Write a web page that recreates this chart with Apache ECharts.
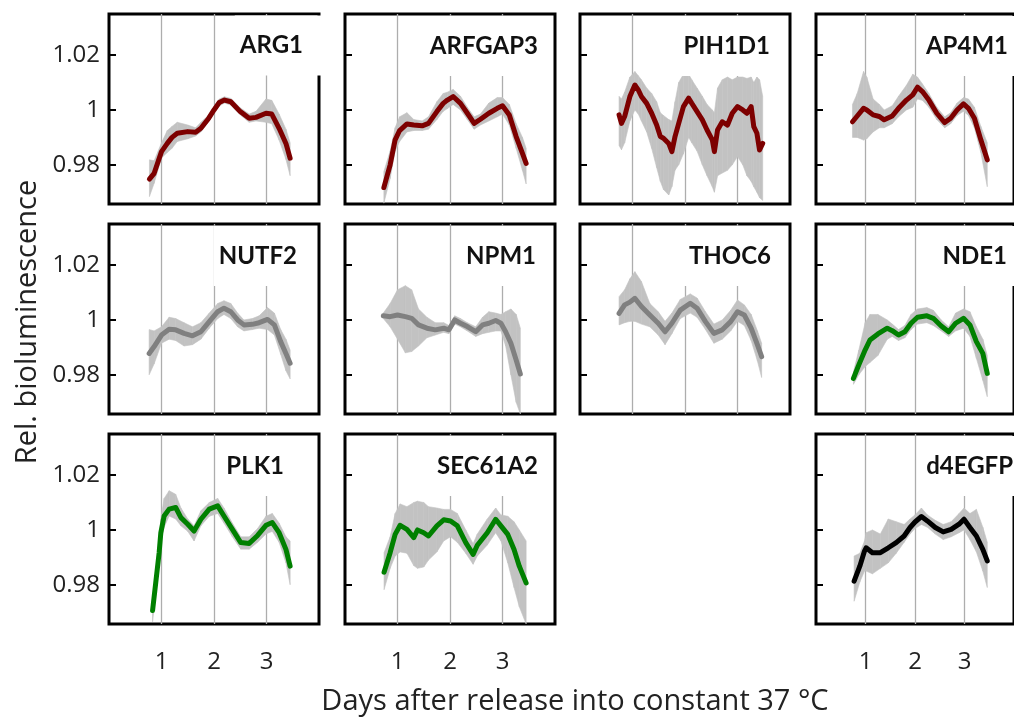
<!DOCTYPE html>
<html>
<head>
<meta charset="utf-8">
<script src="https://cdn.jsdelivr.net/npm/echarts@6/dist/echarts.min.js"></script>
<style>
  html, body { margin: 0; padding: 0; background: #fff; }
  #chart { width: 1014px; height: 720px; }
</style>
</head>
<body>
<div id="chart"></div>
<script>
// Each row: [days, mean, lower bound, upper bound]
const ARG1 = [
  [0.77, 0.9748, 0.9684, 0.9818], [0.86, 0.9769, 0.9733, 0.9815], [1.0, 0.9848, 0.9825, 0.9880],
  [1.11, 0.9878, 0.9845, 0.9925], [1.2, 0.9900, 0.9860, 0.9940], [1.3, 0.9915, 0.9885, 0.9955],
  [1.5, 0.9921, 0.9895, 0.9945], [1.65, 0.9919, 0.9905, 0.9935], [1.75, 0.9933, 0.9920, 0.9955],
  [1.9, 0.9970, 0.9958, 0.9982], [2.0, 1.0000, 0.9990, 1.0012], [2.1, 1.0027, 1.0015, 1.0040],
  [2.2, 1.0036, 1.0025, 1.0048], [2.32, 1.0030, 1.0018, 1.0042], [2.5, 0.9994, 0.9982, 1.0008],
  [2.67, 0.9970, 0.9955, 0.9985], [2.8, 0.9973, 0.9960, 0.9995], [2.99, 0.9988, 0.9955, 1.0040],
  [3.1, 0.9985, 0.9950, 1.0035], [3.24, 0.9933, 0.9890, 0.9985], [3.37, 0.9878, 0.9820, 0.9930],
  [3.45, 0.9824, 0.9760, 0.9880]
];
const ARFGAP3 = [
  [0.74, 0.9717, 0.9660, 0.9775], [0.86, 0.9800, 0.9750, 0.9850], [0.955, 0.9891, 0.9850, 0.9935],
  [1.04, 0.9925, 0.9885, 0.9975], [1.18, 0.9949, 0.9920, 0.9990], [1.31, 0.9945, 0.9925, 0.9965],
  [1.47, 0.9942, 0.9925, 0.9960], [1.59, 0.9951, 0.9930, 0.9975], [1.75, 0.9994, 0.9965, 1.0030],
  [1.87, 1.0024, 0.9995, 1.0060], [1.95, 1.0036, 1.0005, 1.0065], [2.06, 1.0049, 1.0020, 1.0075],
  [2.2, 1.0024, 1.0000, 1.0050], [2.33, 0.9988, 0.9965, 1.0010], [2.46, 0.9951, 0.9930, 0.9975],
  [2.58, 0.9966, 0.9945, 0.9985], [2.74, 0.9988, 0.9960, 1.0025], [2.9, 1.0006, 0.9975, 1.0045],
  [3.0, 1.0015, 0.9985, 1.0045], [3.13, 0.9982, 0.9945, 1.0020], [3.26, 0.9903, 0.9860, 0.9950],
  [3.38, 0.9842, 0.9780, 0.9900], [3.45, 0.9805, 0.9730, 0.9860]
];
const PIH1D1 = [
  [0.744, 0.9982, 0.9870, 1.0050], [0.79, 0.9951, 0.9855, 1.0040], [0.85, 0.9976, 0.9880, 1.0065],
  [0.95, 1.0049, 0.9960, 1.0120], [1.045, 1.0091, 1.0000, 1.0140], [1.11, 1.0073, 0.9985, 1.0125],
  [1.17, 1.0049, 0.9960, 1.0110], [1.27, 1.0024, 0.9920, 1.0080], [1.365, 0.9988, 0.9860, 1.0060],
  [1.46, 0.9945, 0.9790, 1.0030], [1.53, 0.9903, 0.9740, 0.9990], [1.59, 0.9897, 0.9710, 0.9980],
  [1.69, 0.9878, 0.9690, 0.9965], [1.75, 0.9848, 0.9720, 0.9960], [1.81, 0.9903, 0.9780, 1.0030],
  [1.88, 0.9951, 0.9800, 1.0100], [1.97, 1.0012, 0.9840, 1.0130], [2.07, 1.0043, 0.9900, 1.0130],
  [2.13, 1.0024, 0.9880, 1.0110], [2.23, 0.9994, 0.9850, 1.0080], [2.33, 0.9964, 0.9800, 1.0050],
  [2.42, 0.9927, 0.9760, 1.0020], [2.52, 0.9891, 0.9720, 1.0000], [2.56, 0.9848, 0.9700, 0.9990],
  [2.62, 0.9927, 0.9760, 1.0080], [2.71, 0.9957, 0.9770, 1.0110], [2.81, 0.9945, 0.9780, 1.0120],
  [2.9, 0.9988, 0.9800, 1.0110], [3.0, 1.0012, 0.9830, 1.0120], [3.1, 1.0000, 0.9800, 1.0120],
  [3.18, 0.9988, 0.9760, 1.0115], [3.26, 1.0012, 0.9740, 1.0120], [3.31, 0.9939, 0.9720, 1.0100],
  [3.37, 0.9915, 0.9700, 1.0120], [3.42, 0.9854, 0.9680, 1.0110], [3.48, 0.9878, 0.9670, 1.0050]
];
const AP4M1 = [
  [0.737, 0.9957, 0.9900, 1.0020], [0.833, 0.9978, 0.9900, 1.0060], [0.96, 1.0006, 0.9890, 1.0140],
  [1.026, 1.0000, 0.9895, 1.0120], [1.154, 0.9982, 0.9920, 1.0040], [1.28, 0.9976, 0.9935, 1.0020],
  [1.378, 0.9964, 0.9935, 1.0000], [1.54, 0.9978, 0.9950, 1.0015], [1.667, 1.0006, 0.9975, 1.0050],
  [1.827, 1.0036, 1.0000, 1.0090], [1.955, 1.0055, 1.0010, 1.0130], [2.05, 1.0083, 1.0040, 1.0120],
  [2.15, 1.0067, 1.0035, 1.0095], [2.28, 1.0036, 1.0010, 1.0060], [2.44, 0.9988, 0.9965, 1.0010],
  [2.6, 0.9954, 0.9935, 0.9975], [2.72, 0.9970, 0.9950, 0.9990], [2.85, 1.0000, 0.9980, 1.0025],
  [2.98, 1.0022, 0.9995, 1.0045], [3.08, 1.0006, 0.9980, 1.0040], [3.2, 0.9970, 0.9935, 1.0010],
  [3.33, 0.9891, 0.9845, 0.9940], [3.46, 0.9818, 0.9720, 0.9880]
];
const NUTF2 = [
  [0.765, 0.9878, 0.9800, 0.9965], [0.86, 0.9903, 0.9840, 0.9960], [1.0, 0.9945, 0.9915, 0.9975],
  [1.146, 0.9966, 0.9930, 1.0010], [1.27, 0.9964, 0.9925, 1.0005], [1.43, 0.9951, 0.9905, 0.9990],
  [1.59, 0.9942, 0.9910, 0.9975], [1.75, 0.9957, 0.9930, 0.9990], [1.91, 0.9994, 0.9970, 1.0025],
  [2.07, 1.0030, 1.0005, 1.0060], [2.19, 1.0043, 1.0020, 1.0070], [2.32, 1.0030, 1.0005, 1.0060],
  [2.45, 1.0000, 0.9975, 1.0025], [2.57, 0.9982, 0.9960, 1.0000], [2.73, 0.9984, 0.9965, 1.0005],
  [2.86, 0.9990, 0.9970, 1.0015], [3.02, 1.0002, 0.9965, 1.0045], [3.15, 0.9982, 0.9945, 1.0025],
  [3.27, 0.9921, 0.9875, 0.9965], [3.37, 0.9878, 0.9815, 0.9930], [3.45, 0.9842, 0.9785, 0.9890]
];
const NPM1 = [
  [0.73, 1.0015, 1.0005, 1.0025], [0.86, 1.0012, 0.9975, 1.0060], [1.0, 1.0018, 0.9930, 1.0110],
  [1.15, 1.0012, 0.9880, 1.0125], [1.27, 1.0006, 0.9885, 1.0110], [1.4, 0.9982, 0.9905, 1.0040],
  [1.56, 0.9970, 0.9935, 1.0010], [1.72, 0.9964, 0.9945, 0.9990], [1.88, 0.9970, 0.9955, 0.9990],
  [1.98, 0.9964, 0.9950, 0.9980], [2.09, 1.0000, 0.9985, 1.0015], [2.2, 0.9988, 0.9975, 1.0005],
  [2.33, 0.9976, 0.9960, 0.9990], [2.49, 0.9957, 0.9940, 0.9975], [2.62, 0.9982, 0.9950, 1.0010],
  [2.74, 0.9988, 0.9955, 1.0030], [2.87, 0.9998, 0.9960, 1.0025], [2.97, 0.9988, 0.9960, 1.0020],
  [3.06, 0.9957, 0.9905, 1.0030], [3.16, 0.9915, 0.9800, 1.0040], [3.26, 0.9854, 0.9700, 1.0020],
  [3.34, 0.9803, 0.9640, 0.9970]
];
const THOC6 = [
  [0.744, 1.0024, 0.9982, 1.0085], [0.85, 1.0055, 0.9990, 1.0110], [0.95, 1.0065, 0.9995, 1.0150],
  [1.045, 1.0079, 0.9995, 1.0176], [1.17, 1.0049, 0.9985, 1.0140], [1.33, 1.0018, 0.9975, 1.0060],
  [1.49, 0.9988, 0.9945, 1.0030], [1.62, 0.9957, 0.9910, 0.9995], [1.75, 0.9988, 0.9950, 1.0025],
  [1.91, 1.0036, 1.0005, 1.0075], [2.1, 1.0061, 1.0025, 1.0095], [2.23, 1.0043, 1.0010, 1.0080],
  [2.39, 0.9994, 0.9965, 1.0030], [2.55, 0.9951, 0.9915, 0.9985], [2.71, 0.9964, 0.9930, 1.0000],
  [2.87, 0.9994, 0.9960, 1.0035], [3.0, 1.0030, 0.9995, 1.0073], [3.13, 1.0018, 0.9980, 1.0055],
  [3.26, 0.9970, 0.9925, 1.0020], [3.38, 0.9909, 0.9850, 0.9960], [3.46, 0.9866, 0.9790, 0.9915]
];
const NDE1 = [
  [0.756, 0.9787, 0.9765, 0.9810], [0.865, 0.9836, 0.9800, 0.9890], [0.994, 0.9891, 0.9830, 0.9990],
  [1.09, 0.9927, 0.9845, 1.0020], [1.25, 0.9949, 0.9870, 1.0020], [1.44, 0.9970, 0.9930, 1.0000],
  [1.54, 0.9961, 0.9940, 0.9985], [1.667, 0.9945, 0.9925, 0.9965], [1.795, 0.9957, 0.9935, 0.9980],
  [1.92, 0.9988, 0.9965, 1.0020], [2.05, 1.0010, 0.9985, 1.0040], [2.24, 1.0015, 0.9990, 1.0045],
  [2.37, 1.0006, 0.9980, 1.0035], [2.53, 0.9978, 0.9960, 1.0000], [2.68, 0.9957, 0.9940, 0.9975],
  [2.82, 0.9988, 0.9960, 1.0025], [2.98, 1.0006, 0.9970, 1.0040], [3.11, 0.9982, 0.9940, 1.0030],
  [3.24, 0.9921, 0.9860, 0.9975], [3.37, 0.9878, 0.9780, 0.9930], [3.46, 0.9805, 0.9720, 0.9870]
];
const PLK1 = [
  [0.83, 0.9706, 0.9665, 0.9745], [0.89, 0.9807, 0.9770, 0.9850], [0.955, 0.9917, 0.9880, 0.9960],
  [0.987, 0.9990, 0.9950, 1.0040], [1.05, 1.0051, 1.0010, 1.0115], [1.146, 1.0076, 1.0051, 1.0143],
  [1.27, 1.0082, 1.0040, 1.0130], [1.37, 1.0045, 1.0015, 1.0080], [1.5, 1.0021, 0.9995, 1.0040],
  [1.62, 0.9996, 0.9960, 1.0015], [1.75, 1.0039, 1.0015, 1.0070], [1.91, 1.0076, 1.0050, 1.0100],
  [2.07, 1.0088, 1.0060, 1.0115], [2.19, 1.0051, 1.0025, 1.0080], [2.35, 1.0002, 0.9975, 1.0025],
  [2.51, 0.9954, 0.9930, 0.9975], [2.67, 0.9951, 0.9930, 0.9975], [2.83, 0.9980, 0.9955, 1.0005],
  [2.99, 1.0017, 0.9985, 1.0050], [3.11, 1.0027, 0.9995, 1.0060], [3.24, 0.9990, 0.9955, 1.0025],
  [3.37, 0.9929, 0.9880, 0.9975], [3.45, 0.9868, 0.9800, 0.9960]
];
const SEC61A2 = [
  [0.744, 0.9846, 0.9782, 0.9917], [0.86, 0.9917, 0.9860, 0.9975], [0.955, 0.9984, 0.9905, 1.0060],
  [1.05, 1.0017, 0.9920, 1.0095], [1.18, 1.0002, 0.9915, 1.0085], [1.31, 0.9972, 0.9870, 1.0100],
  [1.38, 1.0000, 0.9860, 1.0105], [1.5, 0.9990, 0.9865, 1.0100], [1.59, 0.9978, 0.9890, 1.0085],
  [1.75, 1.0015, 0.9920, 1.0080], [1.88, 1.0037, 0.9960, 1.0075], [2.01, 1.0033, 0.9975, 1.0075],
  [2.14, 1.0015, 0.9955, 1.0060], [2.3, 0.9954, 0.9915, 1.0000], [2.44, 0.9911, 0.9875, 0.9950],
  [2.52, 0.9944, 0.9905, 0.9985], [2.71, 0.9990, 0.9945, 1.0040], [2.87, 1.0039, 0.9990, 1.0080],
  [2.97, 1.0015, 0.9960, 1.0055], [3.1, 0.9984, 0.9880, 1.0050], [3.22, 0.9929, 0.9790, 1.0030],
  [3.32, 0.9868, 0.9720, 1.0000], [3.45, 0.9807, 0.9655, 0.9960]
];
const d4EGFP = [
  [0.77, 0.9813, 0.9740, 0.9905], [0.885, 0.9868, 0.9810, 0.9915], [0.98, 0.9923, 0.9850, 0.9960],
  [1.013, 0.9935, 0.9850, 0.9990], [1.14, 0.9917, 0.9840, 1.0000], [1.3, 0.9917, 0.9860, 0.9985],
  [1.46, 0.9935, 0.9880, 1.0040], [1.62, 0.9954, 0.9915, 1.0030], [1.78, 0.9978, 0.9955, 1.0020],
  [1.9, 1.0009, 0.9985, 1.0040], [2.0, 1.0029, 1.0005, 1.0055], [2.13, 1.0049, 1.0020, 1.0080],
  [2.25, 1.0033, 1.0010, 1.0055], [2.41, 1.0009, 0.9985, 1.0035], [2.57, 0.9993, 0.9965, 1.0020],
  [2.73, 1.0002, 0.9975, 1.0030], [2.89, 1.0021, 0.9990, 1.0060], [2.99, 1.0039, 1.0000, 1.0080],
  [3.11, 1.0009, 0.9965, 1.0060], [3.24, 0.9978, 0.9920, 1.0075], [3.37, 0.9929, 0.9850, 1.0010],
  [3.46, 0.9887, 0.9790, 0.9955]
];

const geneNames = ['ARG1', 'ARFGAP3', 'PIH1D1', 'AP4M1', 'NUTF2', 'NPM1', 'THOC6', 'NDE1', 'PLK1', 'SEC61A2', 'd4EGFP'];
const geneData = [ARG1, ARFGAP3, PIH1D1, AP4M1, NUTF2, NPM1, THOC6, NDE1, PLK1, SEC61A2, d4EGFP];
const xTickValues = [1, 2, 3];
const yTickValues = [0.98, 1, 1.02];
const xRange = [0, 4];
const yRange = [0.9657, 1.035];
const yTitle = 'Rel. bioluminescence';
const xTitle = 'Days after release into constant 37 °C';

// layout and styling
const RED = '#7d0000', GREY = '#808080', GREEN = '#008000', BLACK = '#000000';
const BAND = '#c2c2c2';
const lineColors = [RED, RED, RED, RED, GREY, GREY, GREY, GREEN, GREEN, GREEN, BLACK];
const slots = [[0, 0], [0, 1], [0, 2], [0, 3], [1, 0], [1, 1], [1, 2], [1, 3], [2, 0], [2, 1], [2, 3]];
const labelRightPad = [16, 17, 20, 18, 22, 19, 19, 19, 35, 17, 13];
const colLeft = [109, 345, 580, 816];
const rowTop = [14, 224, 434];
const panelW = 210, panelH = 190;
const tickFont = '"Open Sans", "DejaVu Sans", sans-serif';
const labelFont = 'Lato, "Open Sans", sans-serif';

const grids = [], xAxes = [], yAxes = [], series = [], graphics = [];

// shaded band between lower and upper bound: one quadrilateral per interval
function bandRenderer(rows) {
  return function (params, api) {
    const k = params.dataIndex;
    if (k >= rows.length - 1) return null;
    const a = rows[k], b = rows[k + 1];
    const pts = [
      api.coord([a[0], a[3]]), api.coord([b[0], b[3]]),
      api.coord([b[0], b[2]]), api.coord([a[0], a[2]])
    ];
    return {
      type: 'polygon',
      shape: { points: echarts.graphic.clipPointsByRect(pts, params.coordSys) },
      style: { fill: BAND, stroke: BAND, lineWidth: 0.6 }
    };
  };
}

geneData.forEach((rows, i) => {
  const [r, c] = slots[i];
  const left = colLeft[c], top = rowTop[r];
  grids.push({ left, top, width: panelW, height: panelH, show: true,
    borderColor: '#000', borderWidth: 3, backgroundColor: 'transparent' });

  xAxes.push({
    gridIndex: i, type: 'value', min: xRange[0], max: xRange[1], interval: 1,
    axisLine: { show: false }, axisTick: { show: false },
    splitLine: { show: true, showMinLine: false, showMaxLine: false,
      lineStyle: { color: '#adadad', width: 1.3 } },
    axisLabel: { show: r === 2, customValues: xTickValues, margin: 26,
      fontFamily: tickFont, fontSize: 24, color: '#222' }
  });
  yAxes.push({
    gridIndex: i, type: 'value', min: yRange[0], max: yRange[1],
    axisLine: { show: false }, splitLine: { show: false },
    axisTick: { show: true, inside: true, length: 7, customValues: yTickValues,
      lineStyle: { color: '#000', width: 2 } },
    axisLabel: { show: c === 0, customValues: yTickValues, margin: 9,
      formatter: v => (Math.abs(v - 1) < 1e-9 ? '1' : v.toFixed(2)),
      fontFamily: tickFont, fontSize: 24, color: '#222' }
  });

  series.push({
    type: 'custom', xAxisIndex: i, yAxisIndex: i, silent: true, z: 1,
    data: rows.map(d => [d[0], d[2], d[3]]),
    encode: { x: 0, y: [1, 2] },
    renderItem: bandRenderer(rows)
  });
  series.push({
    type: 'line', xAxisIndex: i, yAxisIndex: i, silent: true,
    data: rows.map(d => [d[0], d[1]]), symbol: 'none',
    lineStyle: { color: lineColors[i], width: 5, join: 'round', cap: 'round' }, z: 3
  });

  // gene label on a white box in the upper right corner
  const extend = i === 0 ? 3 : -2;
  graphics.push({
    type: 'text', z: 10,
    x: left + panelW + extend, y: top + (i === 0 ? 1.5 : 2),
    style: {
      text: geneNames[i], font: 'bold 24px ' + labelFont, fill: '#111',
      align: 'right', verticalAlign: 'top', lineHeight: 28,
      backgroundColor: '#fff',
      padding: [16, labelRightPad[i] + extend, 16, 5]
    }
  });
});

graphics.push({
  type: 'text', x: 28, y: 322, rotation: Math.PI / 2,
  style: { text: yTitle, font: '29px ' + tickFont, fill: '#222', align: 'center', verticalAlign: 'middle' }
});
graphics.push({
  type: 'text', x: 575, y: 702,
  style: { text: xTitle, font: '29px ' + tickFont, fill: '#222', align: 'center', verticalAlign: 'middle' }
});

const chart = echarts.init(document.getElementById('chart'), null, { renderer: 'canvas' });
chart.setOption({
  animation: false,
  backgroundColor: '#fff',
  grid: grids,
  xAxis: xAxes,
  yAxis: yAxes,
  series: series,
  graphic: graphics
});
</script>
</body>
</html>
